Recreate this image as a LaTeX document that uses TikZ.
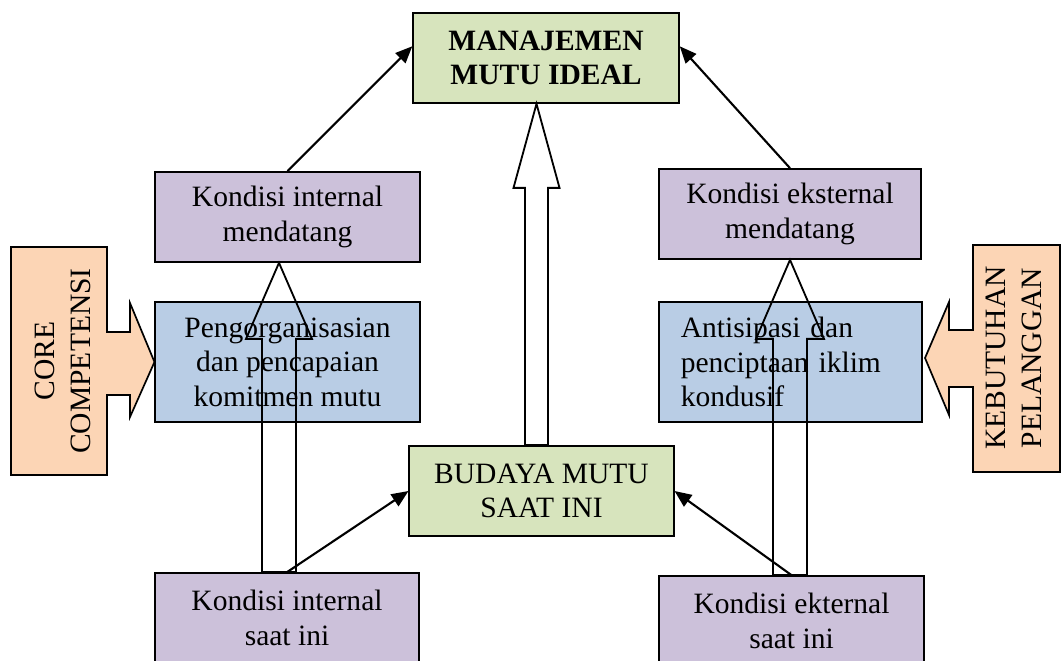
\documentclass[tikz,border=0pt]{standalone}
\usepackage{fontspec}
\setmainfont{Liberation Serif}
\usetikzlibrary{arrows.meta,calc}
\definecolor{mutugreen}{HTML}{D7E4BD}
\definecolor{kondisipurple}{HTML}{CCC1DA}
\definecolor{prosesblue}{HTML}{B9CDE5}
\definecolor{calloutorange}{HTML}{FCD5B5}
% hollow block arrow: x, from node, to node, half shaft, half head, head length
\newcommand{\hollowarrow}[6]{%
  \draw[harrow] (#1,0 |- #3.south) -- ++(#5,#6) -- ++(#4-#5,0)
    -- (#1+#4,0 |- #2.north) -- (#1-#4,0 |- #2.north)
    -- ($(#1-#4,0 |- #3.south)+(0,#6)$) -- ++(#4-#5,0) -- cycle;}

\begin{document}
\begin{tikzpicture}[x=0.025cm, y=-0.025cm,
    box/.style={draw, line width=1.2pt, minimum width=188pt, minimum height=64pt, inner sep=2pt, align=center, font=\fontsize{21}{24.5}\selectfont},
    tallbox/.style={box, minimum height=85.4pt},
    harrow/.style={line width=1.3pt},
    link/.style={line width=1.5pt, -{Triangle[length=12pt,width=10pt]}},
    callout/.style={draw, line width=1.2pt, fill=calloutorange}]
    \useasboundingbox (0,0) rectangle (1062,661);

    \node[box, fill=mutugreen, minimum width=189pt, font=\fontsize{21}{24.5}\selectfont\bfseries] (man) at (546,58) {MANAJEMEN\\MUTU IDEAL};
    \node[box, fill=kondisipurple] (kim) at (287.5,217) {Kondisi internal\\mendatang};
    \node[box, fill=kondisipurple, minimum width=186pt] (kem) at (790,214) {Kondisi eksternal\\mendatang};
    \node[tallbox, fill=prosesblue] (peng) at (287.5,362) {Pengorganisasian\\dan pencapaian\\komitmen mutu};
    \node[tallbox, fill=prosesblue, minimum width=187pt, align=left, text width=156pt] (anti) at (790.5,362) {Antisipasi dan\\penciptaan iklim\\kondusif};
    \node[box, fill=mutugreen] (budaya) at (541.5,491) {BUDAYA MUTU\\SAAT INI};
    \node[box, fill=kondisipurple] (kis) at (287,618) {Kondisi internal\\saat ini};
    \node[box, fill=kondisipurple] (kes) at (791.5,621) {Kondisi ekternal\\saat ini};

    % callouts at the sides
    \draw[callout] (11,247) -- (107,247) -- (107,332) -- (130,332) -- (130,303) -- (peng.west)
      -- (130,417) -- (130,395) -- (107,395) -- (107,475) -- (11,475) -- cycle;
    \node[rotate=90, align=center, font=\fontsize{21}{26}\selectfont] (core) at (63,361) {CORE\\COMPETENSI};
    \draw[callout] (1060,245) -- (973,245) -- (973,330) -- (949,330) -- (949,302) -- (925,358)
      -- (949,415) -- (949,387) -- (973,387) -- (973,472) -- (1060,472) -- cycle;
    \node[rotate=90, align=center, font=\fontsize{21}{26}\selectfont] (pelanggan) at (1014,358) {KEBUTUHAN\\PELANGGAN};

    \hollowarrow{279}{kis}{kim}{17}{33}{76}
    \hollowarrow{790}{kes}{kem}{17}{34}{79}
    \hollowarrow{536.5}{budaya}{man}{11.5}{23}{84}

    \draw[link] (kim.north) -- (man.175);
    \draw[link] (kem.north) -- (man.5);
    \draw[link] (kis.north) -- (budaya.west);
    \draw[link] (kes.north) -- (budaya.east);
\end{tikzpicture}
\end{document}
